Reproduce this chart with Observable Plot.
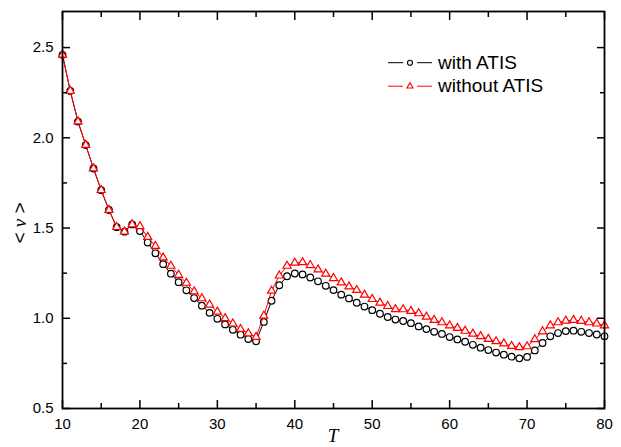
<!DOCTYPE html>
<html><head><meta charset="utf-8">
<script src="https://cdn.jsdelivr.net/npm/d3@7"></script>
<script src="https://cdn.jsdelivr.net/npm/@observablehq/plot@0.6"></script>
<style>body{margin:0;background:#fff}</style>
</head><body><div id="chart"></div>
<script>
const T = [10,11,12,13,14,15,16,17,18,19,20,21,22,23,24,25,26,27,28,29,30,31,32,33,34,35,36,37,38,39,40,41,42,43,44,45,46,47,48,49,50,51,52,53,54,55,56,57,58,59,60,61,62,63,64,65,66,67,68,69,70,71,72,73,74,75,76,77,78,79,80];
const withATIS = [2.46,2.26,2.09,1.96,1.83,1.71,1.60,1.505,1.48,1.52,
  1.483,1.42,1.36,1.30,1.247,1.20,1.155,1.112,1.07,1.03,
  0.997,0.966,0.936,0.909,0.885,0.872,0.98,1.097,1.183,1.233,
  1.248,1.243,1.226,1.205,1.18,1.156,1.131,1.11,1.086,1.065,
  1.045,1.025,1.007,0.993,0.985,0.973,0.955,0.94,0.925,0.913,
  0.896,0.883,0.87,0.853,0.837,0.824,0.81,0.798,0.787,0.778,
  0.786,0.822,0.863,0.9,0.918,0.929,0.931,0.925,0.918,0.91,0.90];
const withoutATIS = [2.46,2.26,2.09,1.96,1.83,1.71,1.60,1.505,1.48,1.52,
  1.51,1.45,1.40,1.336,1.29,1.24,1.196,1.148,1.11,1.075,
  1.036,1.0,0.97,0.94,0.916,0.896,1.014,1.152,1.236,1.29,
  1.307,1.31,1.294,1.27,1.246,1.222,1.198,1.176,1.156,1.13,
  1.106,1.086,1.067,1.05,1.049,1.04,1.027,1.008,0.99,0.977,
  0.96,0.946,0.93,0.914,0.9,0.885,0.872,0.86,0.846,0.839,
  0.844,0.883,0.927,0.96,0.977,0.986,0.99,0.985,0.977,0.97,0.96];
const seriesNames = ["with ATIS", "without ATIS"];
const seriesColors = ["black", "red"];
const xMajorTicks = [10,20,30,40,50,60,70,80];
const xMinorTicks = [15,25,35,45,55,65,75];
const yMajorTicks = [0.5,1.0,1.5,2.0,2.5];
const yMinorTicks = [0.75,1.25,1.75,2.25];
const xLabel = "T";
const yLabelParts = ["<", "ν", ">"];

const rowsA = T.map((t, i) => ({T: t, v: withATIS[i]}));
const rowsB = T.map((t, i) => ({T: t, v: withoutATIS[i]}));

const W = 621, H = 447, mL = 62, mR = 17, mT = 11, mB = 39;
const majorLen = 8, minorLen = 5;
const fmtY = d3.format(".1f");
const blank = () => "";
const tk = {label: null, strokeWidth: 1.5, tickFormat: blank};

const plot = Plot.plot({
  width: W, height: H,
  marginLeft: mL, marginRight: mR, marginTop: mT, marginBottom: mB,
  x: {domain: [10, 80]},
  y: {domain: [0.5, 2.7]},
  style: {fontFamily: "'Liberation Sans', Arial, sans-serif", fontSize: "15px", color: "black", background: "white"},
  marks: [
    Plot.line(rowsA, {x: "T", y: "v", stroke: seriesColors[0], strokeWidth: 1}),
    Plot.dot(rowsA, {x: "T", y: "v", r: 3.3, stroke: seriesColors[0], fill: "white", strokeWidth: 1.2}),
    Plot.line(rowsB, {x: "T", y: "v", stroke: seriesColors[1], strokeWidth: 1}),
    Plot.dot(rowsB, {x: "T", y: "v", symbol: "triangle", r: 3, stroke: seriesColors[1], fill: "white", strokeWidth: 1.2}),
    // inward ticks (axis tick marks shifted back inside the frame)
    Plot.axisX({...tk, anchor: "bottom", ticks: xMajorTicks, tickSize: majorLen, dy: -majorLen}),
    Plot.axisX({...tk, anchor: "bottom", ticks: xMinorTicks, tickSize: minorLen, dy: -minorLen}),
    Plot.axisX({...tk, anchor: "top", ticks: xMajorTicks, tickSize: majorLen, dy: majorLen}),
    Plot.axisX({...tk, anchor: "top", ticks: xMinorTicks, tickSize: minorLen, dy: minorLen}),
    Plot.axisY({...tk, anchor: "left", ticks: yMajorTicks, tickSize: majorLen, dx: majorLen}),
    Plot.axisY({...tk, anchor: "left", ticks: yMinorTicks, tickSize: minorLen, dx: minorLen}),
    Plot.axisY({...tk, anchor: "right", ticks: yMajorTicks, tickSize: majorLen, dx: -majorLen}),
    Plot.axisY({...tk, anchor: "right", ticks: yMinorTicks, tickSize: minorLen, dx: -minorLen}),
    // labels
    Plot.axisX({anchor: "bottom", ticks: xMajorTicks, tickSize: 0, tickPadding: 10, tickFormat: d => String(d), label: null, fontSize: 15}),
    Plot.axisY({anchor: "left", ticks: yMajorTicks, tickSize: 0, tickPadding: 9, tickFormat: fmtY, label: null, fontSize: 15}),
    Plot.frame({strokeWidth: 1.8})
  ]
});
document.getElementById("chart").appendChild(plot);

const svg = d3.select(plot);
// axis titles
svg.append("text")
  .attr("x", 333).attr("y", 442)
  .attr("text-anchor", "middle")
  .style("font-family", "'Liberation Serif', 'Times New Roman', serif")
  .style("font-style", "italic").style("font-size", "19px")
  .text(xLabel);
const yl = svg.append("text")
  .attr("transform", "translate(26,223) rotate(-90)")
  .attr("text-anchor", "middle")
  .style("font-family", "'Liberation Sans', Arial, sans-serif")
  .style("font-size", "19px");
yl.append("tspan").text(yLabelParts[0] + " ");
yl.append("tspan").style("font-family", "'Liberation Serif', serif").style("font-style", "italic").text(yLabelParts[1]);
yl.append("tspan").text(" " + yLabelParts[2]);

// legend
const lg = svg.append("g");
seriesNames.forEach((name, i) => {
  const y = 62.7 + i * 23.5;
  const g = lg.append("g");
  g.append("line").attr("x1", 388).attr("x2", 403).attr("y1", y).attr("y2", y)
    .attr("stroke", seriesColors[i]).attr("stroke-width", 1);
  g.append("line").attr("x1", 417).attr("x2", 432).attr("y1", y).attr("y2", y)
    .attr("stroke", seriesColors[i]).attr("stroke-width", 1);
  g.append("path")
    .attr("transform", `translate(410,${y})`)
    .attr("d", d3.symbol(i === 0 ? d3.symbolCircle : d3.symbolTriangle, i === 0 ? 20 : 16)())
    .attr("fill", "white").attr("stroke", seriesColors[i]).attr("stroke-width", 1.1);
  g.append("text").attr("x", 438).attr("y", y + 6)
    .attr("text-anchor", "start")
    .style("font-family", "'Liberation Sans', Arial, sans-serif").style("font-size", "19px")
    .attr("fill", "black").text(name);
});
</script>
</body></html>
